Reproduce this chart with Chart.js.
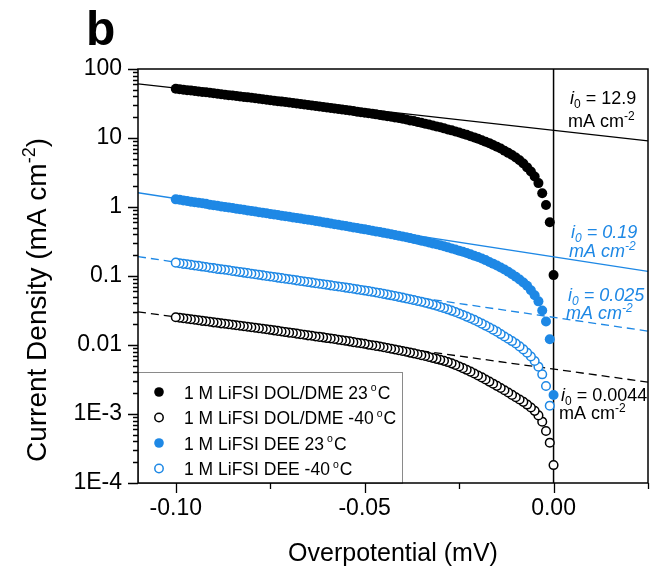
<!DOCTYPE html>
<html>
<head>
<meta charset="utf-8">
<script src="https://cdn.jsdelivr.net/npm/chart.js@4.4.1/dist/chart.umd.min.js"></script>
<style>
  html, body { margin: 0; padding: 0; background: #fff; }
  #wrap { width: 655px; height: 569px; }
</style>
</head>
<body>
<div id="wrap"><canvas id="tafel" width="655" height="569"></canvas></div>
<script>
var FONT = '"Liberation Sans", Arial, Helvetica, sans-serif';
var BLUE = '#1e88e5';

// overpotential (V), 1 mV steps
var overpotential = [
  -0.100, -0.099, -0.098, -0.097, -0.096, -0.095, -0.094, -0.093, -0.092, -0.091,
  -0.090, -0.089, -0.088, -0.087, -0.086, -0.085, -0.084, -0.083, -0.082, -0.081,
  -0.080, -0.079, -0.078, -0.077, -0.076, -0.075, -0.074, -0.073, -0.072, -0.071,
  -0.070, -0.069, -0.068, -0.067, -0.066, -0.065, -0.064, -0.063, -0.062, -0.061,
  -0.060, -0.059, -0.058, -0.057, -0.056, -0.055, -0.054, -0.053, -0.052, -0.051,
  -0.050, -0.049, -0.048, -0.047, -0.046, -0.045, -0.044, -0.043, -0.042, -0.041,
  -0.040, -0.039, -0.038, -0.037, -0.036, -0.035, -0.034, -0.033, -0.032, -0.031,
  -0.030, -0.029, -0.028, -0.027, -0.026, -0.025, -0.024, -0.023, -0.022, -0.021,
  -0.020, -0.019, -0.018, -0.017, -0.016, -0.015, -0.014, -0.013, -0.012, -0.011,
  -0.010, -0.009, -0.008, -0.007, -0.006, -0.005, -0.004, -0.003, -0.002, -0.001,
  0.000
];

// current density (mA cm-2)
var dolDme23 = [
  51.6, 50.9, 50.1, 49.4, 48.7, 48.0, 47.2, 46.5, 45.9, 45.2,
  44.4, 43.8, 43.1, 42.5, 41.8, 41.2, 40.6, 40.0, 39.4, 38.8,
  38.2, 37.6, 37.0, 36.4, 35.9, 35.3, 34.8, 34.2, 33.7, 33.2,
  32.6, 32.1, 31.6, 31.1, 30.6, 30.1, 29.6, 29.2, 28.7, 28.2,
  27.7, 27.3, 26.8, 26.4, 25.9, 25.5, 25.0, 24.6, 24.1, 23.7,
  23.3, 22.8, 22.4, 22.0, 21.6, 21.1, 20.7, 20.3, 19.9, 19.5,
  19.0, 18.5, 18.0, 17.6, 17.1, 16.6, 16.1, 15.7, 15.2, 14.7,
  14.3, 13.8, 13.3, 12.9, 12.4, 12.0, 11.5, 11.1, 10.6, 10.2,
  9.74, 9.28, 8.84, 8.42, 7.93, 7.47, 7.03, 6.55, 6.09, 5.67,
  5.22, 4.75, 4.27, 3.75, 3.26, 2.77, 2.22, 1.58, 1.07, 0.600,
  0.103
];
var dolDmeM40 = [
  0.0252, 0.0248, 0.0244, 0.0240, 0.0236, 0.0232, 0.0228, 0.0224, 0.0221, 0.0217,
  0.0213, 0.0210, 0.0206, 0.0203, 0.0200, 0.0197, 0.0193, 0.0190, 0.0187, 0.0184,
  0.0181, 0.0178, 0.0175, 0.0172, 0.0169, 0.0166, 0.0163, 0.0160, 0.0157, 0.0154,
  0.0151, 0.0149, 0.0146, 0.0143, 0.0141, 0.0138, 0.0136, 0.0133, 0.0131, 0.0129,
  0.0126, 0.0124, 0.0122, 0.0119, 0.0117, 0.0115, 0.0113, 0.0110, 0.0108, 0.0106,
  0.0104, 0.0101, 0.00992, 0.00971, 0.00950, 0.00927, 0.00905, 0.00883, 0.00862, 0.00841,
  0.00819, 0.00798, 0.00776, 0.00755, 0.00734, 0.00713, 0.00692, 0.00671, 0.00651, 0.00630,
  0.00610, 0.00589, 0.00566, 0.00542, 0.00515, 0.00489, 0.00462, 0.00437, 0.00411, 0.00386,
  0.00362, 0.00339, 0.00316, 0.00295, 0.00275, 0.00256, 0.00238, 0.00221, 0.00205, 0.00189,
  0.00175, 0.00162, 0.00150, 0.00137, 0.00124, 0.00111, 0.000955, 0.000774, 0.000568, 0.000384,
  0.000182
];
var dee23 = [
  1.29, 1.27, 1.24, 1.22, 1.19, 1.17, 1.15, 1.13, 1.11, 1.08,
  1.06, 1.04, 1.02, 1.00, 0.984, 0.965, 0.946, 0.928, 0.910, 0.893,
  0.875, 0.859, 0.842, 0.826, 0.810, 0.794, 0.779, 0.764, 0.749, 0.735,
  0.721, 0.707, 0.693, 0.680, 0.667, 0.654, 0.641, 0.629, 0.616, 0.602,
  0.589, 0.577, 0.564, 0.552, 0.540, 0.529, 0.517, 0.506, 0.495, 0.485,
  0.474, 0.463, 0.453, 0.442, 0.433, 0.422, 0.413, 0.404, 0.394, 0.384,
  0.374, 0.364, 0.354, 0.345, 0.335, 0.325, 0.316, 0.306, 0.297, 0.288,
  0.279, 0.270, 0.260, 0.251, 0.242, 0.233, 0.224, 0.215, 0.206, 0.197,
  0.188, 0.179, 0.170, 0.160, 0.151, 0.142, 0.133, 0.124, 0.115, 0.106,
  0.0974, 0.0891, 0.0806, 0.0721, 0.0623, 0.0526, 0.0429, 0.0316, 0.0219, 0.0121,
  0.00188
];
var deeM40 = [
  0.156, 0.153, 0.150, 0.148, 0.145, 0.142, 0.140, 0.137, 0.135, 0.132,
  0.130, 0.127, 0.125, 0.123, 0.121, 0.118, 0.116, 0.114, 0.112, 0.110,
  0.108, 0.106, 0.104, 0.102, 0.100, 0.0984, 0.0966, 0.0948, 0.0931, 0.0914,
  0.0897, 0.0881, 0.0865, 0.0847, 0.0832, 0.0817, 0.0802, 0.0787, 0.0773, 0.0759,
  0.0745, 0.0731, 0.0718, 0.0705, 0.0692, 0.0679, 0.0667, 0.0654, 0.0641, 0.0628,
  0.0615, 0.0603, 0.0590, 0.0577, 0.0564, 0.0551, 0.0538, 0.0525, 0.0512, 0.0499,
  0.0486, 0.0473, 0.0460, 0.0448, 0.0435, 0.0423, 0.0410, 0.0398, 0.0385, 0.0371,
  0.0356, 0.0343, 0.0329, 0.0315, 0.0301, 0.0286, 0.0272, 0.0258, 0.0244, 0.0231,
  0.0217, 0.0204, 0.0191, 0.0179, 0.0167, 0.0156, 0.0144, 0.0133, 0.0123, 0.0114,
  0.0105, 0.00955, 0.00863, 0.00773, 0.00681, 0.00586, 0.00485, 0.00376, 0.00255, 0.00132,
  null
];

// Tafel fits, end points at the plot edges
var fitX = [-0.11, 0.025];
var fitDolDme23 = [60.7, 9.08];
var fitDolDmeM40 = [0.0303, 0.0029];
var fitDee23 = [1.61, 0.117];
var fitDeeM40 = [0.191, 0.0159];
var zeroX = [0, 0];
var zeroY = [0.0001, 100];

var seriesNames = ['1 M LiFSI DOL/DME 23 °C', '1 M LiFSI DOL/DME -40 °C', '1 M LiFSI DEE 23 °C', '1 M LiFSI DEE -40 °C'];
var exchangeCurrents = ['12.9', '0.19', '0.025', '0.0044'];

var xTicks = [-0.10, -0.05, 0.00];
var xMinorTicks = [-0.075, -0.025, 0.025];
var yTicks = [100, 10, 1, 0.1, 0.01, 0.001, 0.0001];
var yTickLabels = ['100', '10', '1', '0.1', '0.01', '1E-3', '1E-4'];

function toPoints(xs, ys) {
    var out = [];
    for (var i = 0; i < xs.length; i++) {
        if (ys[i] !== null) out.push({ x: xs[i], y: ys[i] });
    }
    // sweep drawn from 0 V towards negative, like the original
    return out.reverse();
}

function font(size, italic, bold) {
    return (italic ? 'italic ' : '') + (bold ? 'bold ' : '') + size + 'px ' + FONT;
}

function richWidth(ctx, parts) {
    var w = 0;
    parts.forEach(function (p) {
        ctx.font = font(p.size, p.italic);
        w += ctx.measureText(p.t).width + (p.gap || 0);
    });
    return w;
}

function drawRich(ctx, parts, x, y) {
    parts.forEach(function (p) {
        ctx.font = font(p.size, p.italic);
        ctx.fillText(p.t, x + (p.gap || 0), y + (p.dy || 0));
        x += ctx.measureText(p.t).width + (p.gap || 0);
    });
}

function degreeParts(name, size) {
    var i = name.indexOf('°');
    return [
        { t: name.slice(0, i - 1), size: size },
        { t: 'o', size: size * 0.6, dy: -size * 0.42, gap: 3 },
        { t: name.slice(i + 1), size: size, gap: 1 }
    ];
}

var decor = {
    id: 'decor',
    afterDatasetsDraw: function (chart) {
        var ctx = chart.ctx, a = chart.chartArea;
        var xs = chart.scales.x, ys = chart.scales.y;
        ctx.save();

        // legend box
        var lx = a.left, ly = a.bottom - 111, lw = 264, lh = 111;
        ctx.fillStyle = '#fff';
        ctx.fillRect(lx, ly, lw, lh);
        ctx.strokeStyle = '#8a8a8a';
        ctx.lineWidth = 1;
        ctx.strokeRect(lx + 0.5, ly + 0.5, lw, lh);
        var styles = [
            { c: '#000', fill: true }, { c: '#000', fill: false },
            { c: BLUE, fill: true }, { c: BLUE, fill: false }
        ];
        seriesNames.forEach(function (name, i) {
            var cy = ly + 20 + i * 25.5;
            ctx.beginPath();
            ctx.arc(lx + 21, cy, styles[i].fill ? 4.8 : 4.2, 0, Math.PI * 2);
            if (styles[i].fill) {
                ctx.fillStyle = styles[i].c;
                ctx.fill();
            } else {
                ctx.strokeStyle = styles[i].c;
                ctx.lineWidth = 1.5;
                ctx.stroke();
            }
            ctx.fillStyle = '#000';
            ctx.textAlign = 'left';
            ctx.textBaseline = 'alphabetic';
            drawRich(ctx, degreeParts(name, 17.5), lx + 46, cy + 6.5);
        });

        // frame
        ctx.strokeStyle = '#000';
        ctx.lineWidth = 1.5;
        ctx.strokeRect(a.left, a.top, a.right - a.left, a.bottom - a.top);

        // tick marks
        ctx.lineWidth = 1.3;
        ctx.beginPath();
        xTicks.forEach(function (v) {
            var px = Math.round(xs.getPixelForValue(v)) + 0.5;
            ctx.moveTo(px, a.bottom); ctx.lineTo(px, a.bottom + 10);
        });
        xMinorTicks.forEach(function (v) {
            var px = Math.round(xs.getPixelForValue(v)) + 0.5;
            ctx.moveTo(px, a.bottom); ctx.lineTo(px, a.bottom + 6);
        });
        yTicks.forEach(function (v) {
            var py = Math.round(ys.getPixelForValue(v)) + 0.5;
            ctx.moveTo(a.left, py); ctx.lineTo(a.left - 10, py);
            if (v < 100) {
                for (var m = 2; m <= 9; m++) {
                    var pm = Math.round(ys.getPixelForValue(v * m)) + 0.5;
                    ctx.moveTo(a.left, pm); ctx.lineTo(a.left - 5, pm);
                }
            }
        });
        ctx.stroke();

        // exchange current labels
        var notes = [
            { x: 570, y: 104, ym: 127, c: '#000', it: false },
            { x: 571, y: 238, ym: 257, c: BLUE, it: true },
            { x: 568, y: 301, ym: 319, c: BLUE, it: true },
            { x: 561, y: 401, ym: 419, c: '#000', it: false }
        ];
        notes.forEach(function (n, i) {
            ctx.fillStyle = n.c;
            drawRich(ctx, [
                { t: 'i', size: 18, italic: true },
                { t: '0', size: 12, italic: n.it, dy: 4 },
                { t: ' = ' + exchangeCurrents[i], size: 18, italic: n.it }
            ], n.x, n.y);
            drawRich(ctx, [
                { t: 'mA cm', size: 18, italic: n.it },
                { t: '-2', size: 12, italic: n.it, dy: -7 }
            ], n.x - 2, n.ym);
        });
        ctx.restore();
    },
    afterDraw: function (chart) {
        var ctx = chart.ctx, a = chart.chartArea;
        ctx.save();
        ctx.fillStyle = '#000';
        ctx.textBaseline = 'alphabetic';
        ctx.textAlign = 'left';

        ctx.font = font(48, false, true);
        ctx.fillText('b', 86, 45);

        ctx.font = font(25);
        ctx.textAlign = 'center';
        ctx.fillText('Overpotential (mV)', (a.left + a.right) / 2, 561);

        ctx.textAlign = 'left';
        var yParts = [
            { t: 'Current Density (mA cm', size: 28 },
            { t: '-2', size: 18, dy: -11 },
            { t: ')', size: 28 }
        ];
        var w = richWidth(ctx, yParts);
        ctx.translate(46, 300);
        ctx.rotate(-Math.PI / 2);
        drawRich(ctx, yParts, -w / 2, 0);
        ctx.restore();
    }
};

var markerFilled = { pointStyle: 'circle', pointRadius: 5, borderWidth: 0, showLine: false };
var markerOpen = { pointStyle: 'circle', pointRadius: 4.3, borderWidth: 1.5, showLine: false, pointBackgroundColor: '#fff' };

function fitLine(ys, color, dashed) {
    return {
        data: toPoints(fitX, ys).reverse(),
        showLine: true, pointRadius: 0, borderColor: color, borderWidth: 1.3,
        borderDash: dashed ? [8, 5] : [], fill: false
    };
}

new Chart(document.getElementById('tafel'), {
    type: 'scatter',
    data: {
        datasets: [
            Object.assign({ data: toPoints(overpotential, dolDme23), pointBackgroundColor: '#000', pointBorderColor: '#000' }, markerFilled),
            Object.assign({ data: toPoints(overpotential, dee23), pointBackgroundColor: BLUE, pointBorderColor: BLUE }, markerFilled),
            Object.assign({ data: toPoints(overpotential, deeM40), pointBorderColor: BLUE }, markerOpen),
            Object.assign({ data: toPoints(overpotential, dolDmeM40), pointBorderColor: '#000' }, markerOpen),
            fitLine(fitDolDme23, '#000', false),
            fitLine(fitDolDmeM40, '#000', true),
            fitLine(fitDee23, BLUE, false),
            fitLine(fitDeeM40, BLUE, true),
            { data: toPoints(zeroX, zeroY), showLine: true, pointRadius: 0, borderColor: '#000', borderWidth: 1.5 }
        ]
    },
    options: {
        responsive: false,
        animation: false,
        devicePixelRatio: 1,
        layout: { padding: { top: 69, right: 7, left: 0, bottom: 0 } },
        plugins: { legend: { display: false }, tooltip: { enabled: false } },
        scales: {
            x: {
                type: 'linear', min: -0.11, max: 0.025,
                afterFit: function (s) { s.height = 86; },
                afterBuildTicks: function (s) { s.ticks = xTicks.map(function (v) { return { value: v }; }); },
                grid: { display: false, drawTicks: false },
                border: { display: false },
                ticks: {
                    color: '#000', font: { family: FONT, size: 23 }, padding: 12,
                    maxRotation: 0, autoSkip: false,
                    callback: function (v) { return Number(v).toFixed(2); }
                }
            },
            y: {
                type: 'logarithmic', min: 0.0001, max: 100,
                afterFit: function (s) { s.width = 138; },
                afterBuildTicks: function (s) { s.ticks = yTicks.map(function (v) { return { value: v }; }); },
                grid: { display: false, drawTicks: false },
                border: { display: false },
                ticks: {
                    color: '#000', font: { family: FONT, size: 23 }, padding: 16, autoSkip: false,
                    callback: function (v) {
                        for (var i = 0; i < yTicks.length; i++) {
                            if (Math.abs(Math.log10(v) - Math.log10(yTicks[i])) < 1e-6) return yTickLabels[i];
                        }
                        return '';
                    }
                }
            }
        }
    },
    plugins: [decor]
});
</script>
</body>
</html>
